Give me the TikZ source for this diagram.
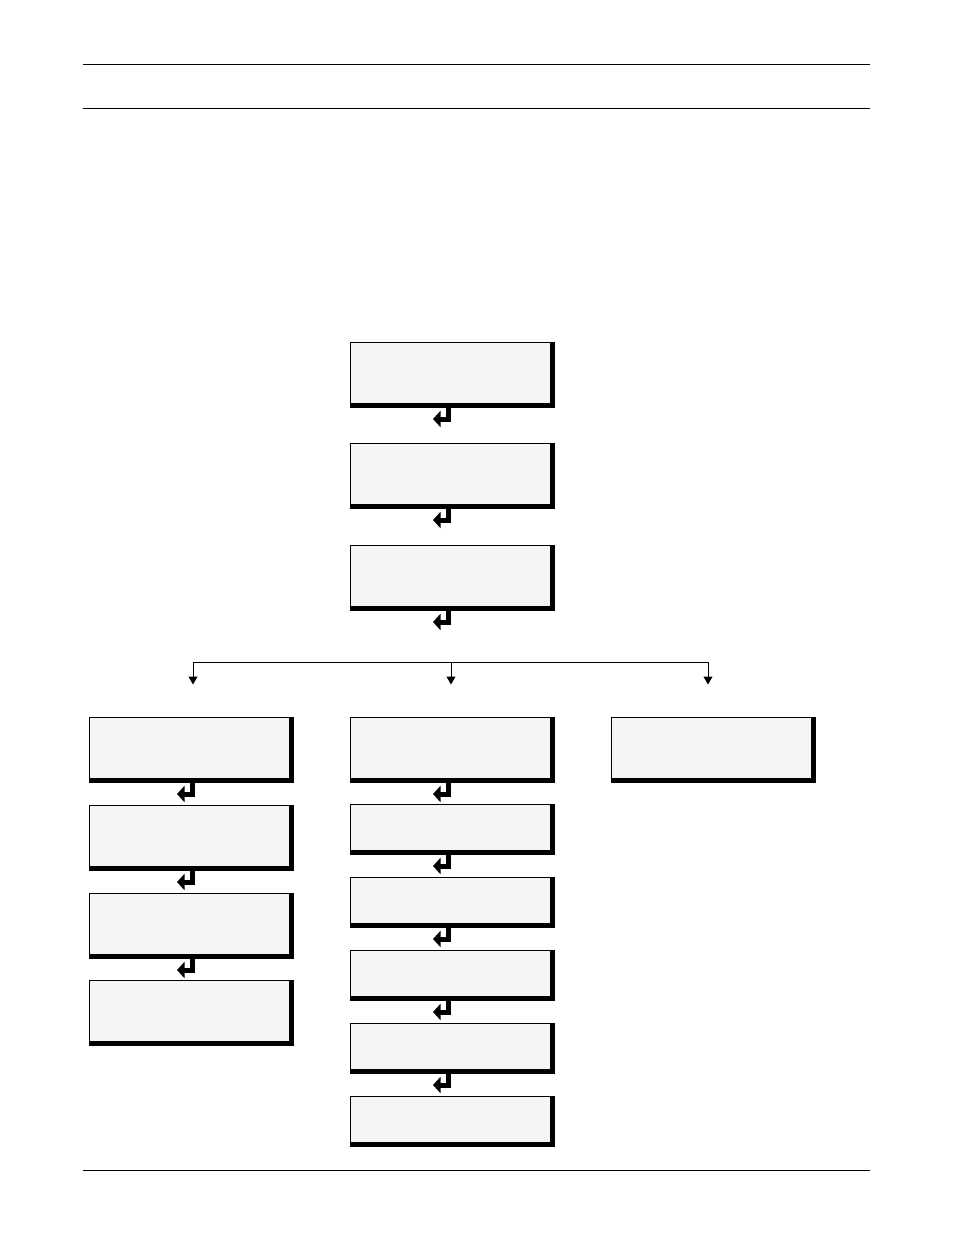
\documentclass[tikz,border=0pt]{standalone}
\usepackage{tikz}
\usetikzlibrary{arrows.meta, backgrounds}

\definecolor{panelgray}{HTML}{F5F5F5}

\tikzset{
  panel/.style={draw, fill=panelgray, line width=1pt, minimum width=200pt, inner sep=0pt},
  tallpanel/.style={panel, minimum height=61pt},
  shortpanel/.style={panel, minimum height=46pt},
  enterkey/.style={line width=5pt, -{Triangle[length=7.5pt, width=16pt]}},
  branch/.style={line width=1pt},
  rule/.style={line width=1pt}
}

% enter symbol under a panel
\newcommand{\enterbelow}[2][-1.5pt]{%
  \draw[enterkey] ([xshift=#1]#2.south) -- ++(0,15.5) -- ++(-15.5,0);}

\begin{document}
\begin{tikzpicture}[x=1pt, y=-1pt]
  \useasboundingbox (0,0) rectangle (954,1235);

  % Page rules
  \draw[rule] (83,64) -- (870,64);
  \draw[rule] (83,108) -- (870,108);
  \draw[rule] (83,1170) -- (870,1170);

  % Top column
  \node[tallpanel] (top1) at (450,372.5) {};
  \node[tallpanel] (top2) at (450,473.5) {};
  \node[tallpanel] (top3) at (450,575.5) {};

  % Left column
  \node[tallpanel] (left1) at (189,747.5) {};
  \node[tallpanel] (left2) at (189,835.5) {};
  \node[tallpanel] (left3) at (189,923.5) {};
  \node[tallpanel] (left4) at (189,1011) {};

  % Middle column
  \node[tallpanel] (mid1) at (450,747.5) {};
  \node[shortpanel] (mid2) at (450,827) {};
  \node[shortpanel] (mid3) at (450,900) {};
  \node[shortpanel] (mid4) at (450,973) {};
  \node[shortpanel] (mid5) at (450,1046) {};
  \node[shortpanel] (mid6) at (450,1119) {};

  % Right column
  \node[tallpanel] (right1) at (711,747.5) {};

  % Heavy right and bottom edges
  \begin{scope}[on background layer]
    \foreach \p in {top1,top2,top3,left1,left2,left3,left4,mid1,mid2,mid3,mid4,mid5,mid6,right1}
      \fill (\p.north west) rectangle ([shift={(4,4)}]\p.south east);
  \end{scope}

  % Enter symbols
  \foreach \p in {top1,top2,top3,mid1,mid2,mid3,mid4,mid5}
    \enterbelow{\p};
  \foreach \p in {left1,left2,left3}
    \enterbelow[3.5pt]{\p};

  % Branch to the three columns
  \coordinate (fork) at (451,662);
  \draw[branch] ([xshift=4pt]left1.north |- fork) -- ([xshift=-3pt]right1.north |- fork);
  \foreach \b/\dx in {left1/4pt, mid1/1pt, right1/-3pt}
    \draw[branch, -{Triangle[length=8pt, width=9pt]}, shorten >=32pt]
      ([xshift=\dx]\b.north |- fork) -- ([xshift=\dx]\b.north);
\end{tikzpicture}
\end{document}
